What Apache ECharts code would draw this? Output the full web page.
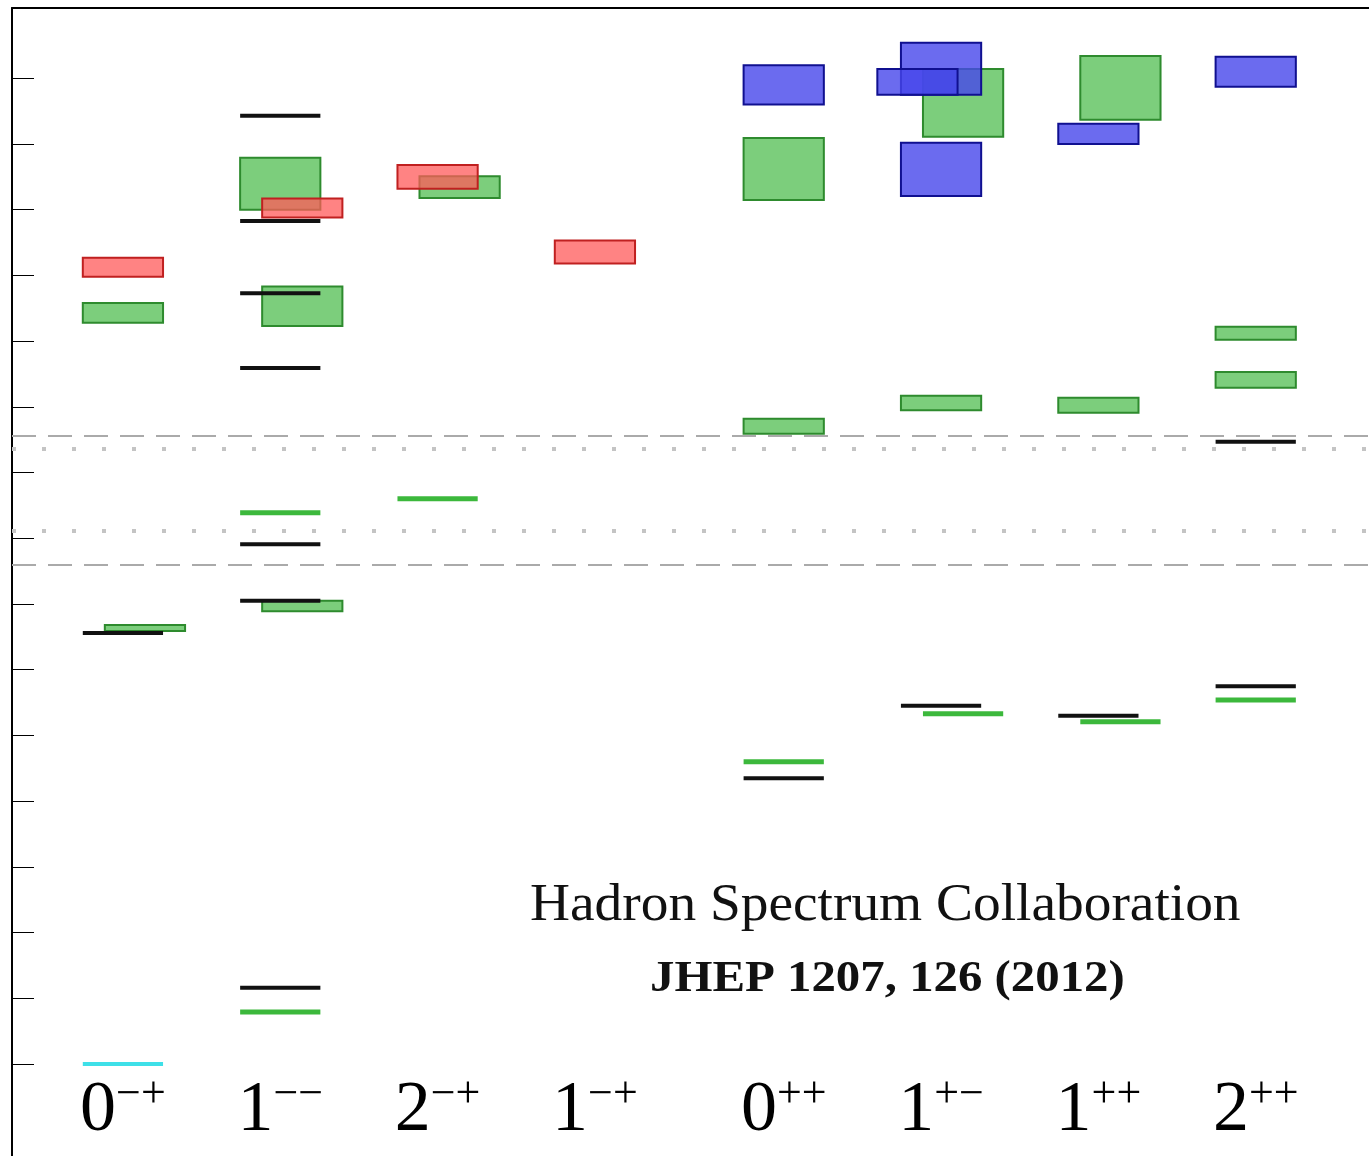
<!DOCTYPE html>
<html><head><meta charset="utf-8">
<script src="https://cdn.jsdelivr.net/npm/echarts@6/dist/echarts.min.js"></script>
<style>html,body{margin:0;background:#fff}#c{width:1369px;height:1156px}</style>
</head><body><div id="c"></div>
<script>
// channel labels J^PC and their column positions
var channels = [['0', '\u2212+'], ['1', '\u2212\u2212'], ['2', '\u2212+'], ['1', '\u2212+'], ['0', '++'], ['1', '+\u2212'], ['1', '++'], ['2', '++']];
var columns = [0, 1, 2, 3, 4.2, 5.2, 6.2, 7.2];
// boxes: [column position, low MeV, high MeV]
var redBoxes = [[0, 1198, 1227], [1.14, 1288, 1317], [2, 1332, 1368], [3, 1218, 1253]];
var greenBoxes = [[0, 1128, 1158], [0.14, 659, 668], [1, 1300, 1379], [1.14, 1123, 1183], [1.14, 689, 705],
  [2.14, 1318, 1351], [4.2, 1315, 1409], [4.2, 959, 982], [5.34, 1411, 1514], [5.2, 995, 1017],
  [6.34, 1437, 1534], [6.2, 991, 1014], [7.2, 1102, 1122], [7.2, 1029, 1053]];
var blueBoxes = [[4.2, 1460, 1520], [5.2, 1475, 1554], [5.05, 1475, 1514], [5.2, 1321, 1402], [6.2, 1400, 1431], [7.2, 1487, 1533]];
// thin levels: [column position, MeV]
var blackLines = [[0, 656], [1, 1443], [1, 1283], [1, 1173], [1, 1059], [1, 791], [1, 705], [1, 116],
  [4.2, 435], [5.2, 545], [6.2, 530], [7.2, 947], [7.2, 575]];
var greenLines = [[1, 839], [1, 79], [2, 860], [4.2, 460], [5.34, 533], [6.34, 521], [7.2, 554]];
var cyanLines = [[0, 0]];
var dashedLevels = [956, 760];
var dottedLevels = [936, 811];

var W = 0.51;
function boxSeries(data, fill, stroke) {
  return {
    type: 'custom', data: data, z: 3,
    renderItem: function (params, api) {
      var p1 = api.coord([api.value(0) - W / 2, api.value(2)]);
      var p2 = api.coord([api.value(0) + W / 2, api.value(1)]);
      return {type: 'rect', shape: {x: p1[0], y: p1[1], width: p2[0] - p1[0], height: p2[1] - p1[1]},
        style: {fill: fill, stroke: stroke, lineWidth: 2}};
    }
  };
}
function lineSeries(data, color, width) {
  return {
    type: 'custom', data: data, z: 4,
    renderItem: function (params, api) {
      var p1 = api.coord([api.value(0) - W / 2, api.value(1)]);
      var p2 = api.coord([api.value(0) + W / 2, api.value(1)]);
      return {type: 'line', shape: {x1: p1[0], y1: p1[1], x2: p2[0], y2: p2[1]},
        style: {stroke: color, lineWidth: width}};
    }
  };
}
function levelLines(vals, color, width, type) {
  return vals.map(function (v) {
    return {yAxis: v, lineStyle: {color: color, width: width, type: type}};
  });
}

var chart = echarts.init(document.getElementById('c'));
chart.setOption({
  animation: false,
  grid: {left: 12, top: 8, right: 0, bottom: 0},
  xAxis: [
    {type: 'value', min: -0.705, max: 7.92, show: false},
    {type: 'value', min: -0.705, max: 7.92, position: 'top', axisLine: {show: true, onZero: false, lineStyle: {color: '#000', width: 2}},
      axisTick: {show: false}, axisLabel: {show: false}, splitLine: {show: false}}
  ],
  yAxis: {
    type: 'value', min: -140, max: 1607,
    axisLine: {show: true, onZero: false, lineStyle: {color: '#000', width: 2}},
    axisTick: {show: true, inside: true, length: 22, lineStyle: {color: '#000', width: 1},
      customValues: [0, 100, 200, 300, 400, 500, 600, 700, 800, 900, 1000, 1100, 1200, 1300, 1400, 1500]},
    axisLabel: {show: false}, splitLine: {show: false}
  },
  series: [
    {type: 'line', data: [], markLine: {symbol: 'none', silent: true, label: {show: false},
      data: levelLines(dashedLevels, '#aaa', 2, [24, 12]).concat(levelLines(dottedLevels, '#c4c4c4', 4, [4, 26]))}},
    boxSeries(greenBoxes, 'rgba(80,190,80,0.75)', '#2e8b2e'),
    boxSeries(redBoxes, 'rgba(255,90,90,0.75)', '#c02020'),
    boxSeries(blueBoxes, 'rgba(70,70,235,0.8)', '#101090'),
    lineSeries(blackLines, '#111', 4),
    lineSeries(greenLines, '#3cb83c', 5),
    lineSeries(cyanLines, '#3ee0e8', 4),
    {
      type: 'custom', data: columns.map(function (x) { return [x, -70]; }), z: 5,
      renderItem: function (params, api) {
        var p = api.coord([api.value(0), api.value(1)]);
        var c = channels[params.dataIndex];
        return {type: 'text', x: p[0], y: p[1], style: {
          text: '{b|' + c[0] + '}{s|' + c[1] + '}', align: 'center', verticalAlign: 'middle',
          rich: {b: {fontFamily: 'Liberation Serif', fontSize: 72, fill: '#000', verticalAlign: 'bottom'},
                 s: {fontFamily: 'Liberation Serif', fontSize: 44, fill: '#000', padding: [0, 0, 30, 0], verticalAlign: 'bottom'}}
        }};
      }
    }
  ],
  graphic: [
    {type: 'text', x: 530, y: 880, scaleX: 1.065, style: {text: 'Hadron Spectrum Collaboration', fontFamily: 'Liberation Serif', fontSize: 52, fill: '#111'}},
    {type: 'text', x: 650, y: 958, scaleX: 1.11, style: {text: 'JHEP 1207, 126 (2012)', fontFamily: 'Liberation Serif', fontWeight: 'bold', fontSize: 44, fill: '#111'}}
  ]
});
</script></body></html>
